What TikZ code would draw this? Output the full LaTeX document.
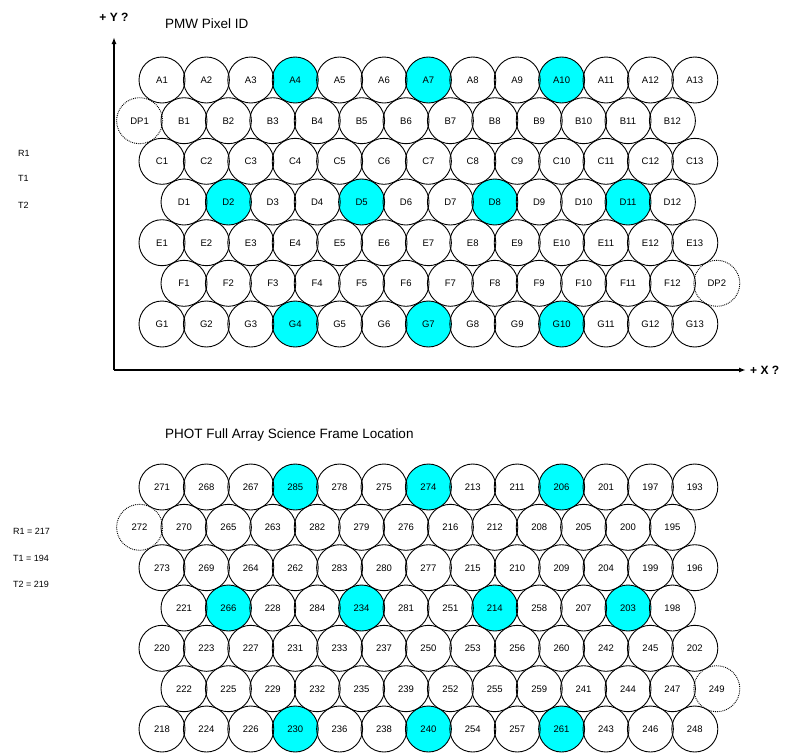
\documentclass[tikz,border=0pt]{standalone}
\usepackage{fontspec}
\setmainfont{Liberation Sans}
\usetikzlibrary{arrows.meta,backgrounds}
\definecolor{pcyan}{HTML}{00FFFF}
\tikzset{
  pix/.style={circle, draw=black, line width=0.9pt, minimum size=46pt, inner sep=0pt,
    text height=6.8pt, text depth=0pt, font=\fontsize{9.5}{10}\selectfont},
  dum/.style={pix, densely dotted},
  hotfill/.style={fill=pcyan},
  axis/.style={line width=1.4pt, -{Latex[length=7pt,width=5pt]}},
  title/.style={anchor=west, font=\fontsize{13.5}{15}\selectfont, inner sep=0pt},
  axlab/.style={font=\bfseries\fontsize{12}{14}\selectfont, inner sep=0pt},
  side/.style={anchor=west, font=\fontsize{9}{10}\selectfont, inner sep=0pt},
}
\begin{document}
\begin{tikzpicture}[x=1pt,y=-1pt]
\useasboundingbox (0,0) rectangle (789,753);

% ---------- top panel ----------
\node[title] (ttitle) at (165,24) {PMW Pixel ID};
\node[axlab] (ylab) at (114,17) {+ Y ?};
\node[axlab, anchor=west] (xlab) at (750,370) {+ X ?};
\node[side] (r1) at (18,153) {R1};
\node[side] (t1) at (18,178) {T1};
\node[side] (t2) at (18,205) {T2};

\coordinate (O) at (114,370);
\coordinate (ytip) at (114,37);
\coordinate (xtip) at (746,370);
\draw[axis] (O) -- (ytip);
\draw[axis] (O) -- (xtip);

% row A
\foreach \lab [count=\i from 0] in {A1,A2,A3,A4,A5,A6,A7,A8,A9,A10,A11,A12,A13}
  \node[pix] (t-\lab) at (162+\i*44.4, 80) {\lab};
% row B
\node[dum] (t-DP1) at (184-44.4, 120.7) {DP1};
\foreach \lab [count=\i from 0] in {B1,B2,B3,B4,B5,B6,B7,B8,B9,B10,B11,B12}
  \node[pix] (t-\lab) at (184+\i*44.4, 120.7) {\lab};
% row C
\foreach \lab [count=\i from 0] in {C1,C2,C3,C4,C5,C6,C7,C8,C9,C10,C11,C12,C13}
  \node[pix] (t-\lab) at (162+\i*44.4, 161.3) {\lab};
% row D
\foreach \lab [count=\i from 0] in {D1,D2,D3,D4,D5,D6,D7,D8,D9,D10,D11,D12}
  \node[pix] (t-\lab) at (184+\i*44.4, 202) {\lab};
% row E
\foreach \lab [count=\i from 0] in {E1,E2,E3,E4,E5,E6,E7,E8,E9,E10,E11,E12,E13}
  \node[pix] (t-\lab) at (162+\i*44.4, 242.7) {\lab};
% row F
\foreach \lab [count=\i from 0] in {F1,F2,F3,F4,F5,F6,F7,F8,F9,F10,F11,F12}
  \node[pix] (t-\lab) at (184+\i*44.4, 283.3) {\lab};
\node[dum] (t-DP2) at (184+12*44.4, 283.3) {DP2};
% row G
\foreach \lab [count=\i from 0] in {G1,G2,G3,G4,G5,G6,G7,G8,G9,G10,G11,G12,G13}
  \node[pix] (t-\lab) at (162+\i*44.4, 324) {\lab};

% ---------- bottom panel ----------
\node[title] (btitle) at (165,435) {PHOT Full Array Science Frame Location};
\node[side] (br1) at (13,531) {R1 = 217};
\node[side] (bt1) at (13,558) {T1 = 194};
\node[side] (bt2) at (13,584) {T2 = 219};

\foreach \lab [count=\i from 0] in {271,268,267,285,278,275,274,213,211,206,201,197,193}
  \node[pix] (b-\lab) at (162+\i*44.4, 487) {\lab};
\node[dum] (b-272) at (184-44.4, 527.3) {272};
\foreach \lab [count=\i from 0] in {270,265,263,282,279,276,216,212,208,205,200,195}
  \node[pix] (b-\lab) at (184+\i*44.4, 527.3) {\lab};
\foreach \lab [count=\i from 0] in {273,269,264,262,283,280,277,215,210,209,204,199,196}
  \node[pix] (b-\lab) at (162+\i*44.4, 567.7) {\lab};
\foreach \lab [count=\i from 0] in {221,266,228,284,234,281,251,214,258,207,203,198}
  \node[pix] (b-\lab) at (184+\i*44.4, 608) {\lab};
\foreach \lab [count=\i from 0] in {220,223,227,231,233,237,250,253,256,260,242,245,202}
  \node[pix] (b-\lab) at (162+\i*44.4, 648.3) {\lab};
\foreach \lab [count=\i from 0] in {222,225,229,232,235,239,252,255,259,241,244,247}
  \node[pix] (b-\lab) at (184+\i*44.4, 688.7) {\lab};
\node[dum] (b-249) at (184+12*44.4, 688.7) {249};
\foreach \lab [count=\i from 0] in {218,224,226,230,236,238,240,254,257,261,243,246,248}
  \node[pix] (b-\lab) at (162+\i*44.4, 729) {\lab};

% ---------- white page and cyan fills behind outlines ----------
\begin{pgfonlayer}{background}
  \fill[white] (0,0) rectangle (789,753);
  \foreach \n in {t-A4,t-A7,t-A10,t-D2,t-D5,t-D8,t-D11,t-G4,t-G7,t-G10,
                  b-285,b-274,b-206,b-266,b-234,b-214,b-203,b-230,b-240,b-261}
    \fill[hotfill] (\n.center) circle (23pt);
\end{pgfonlayer}
\end{tikzpicture}
\end{document}
